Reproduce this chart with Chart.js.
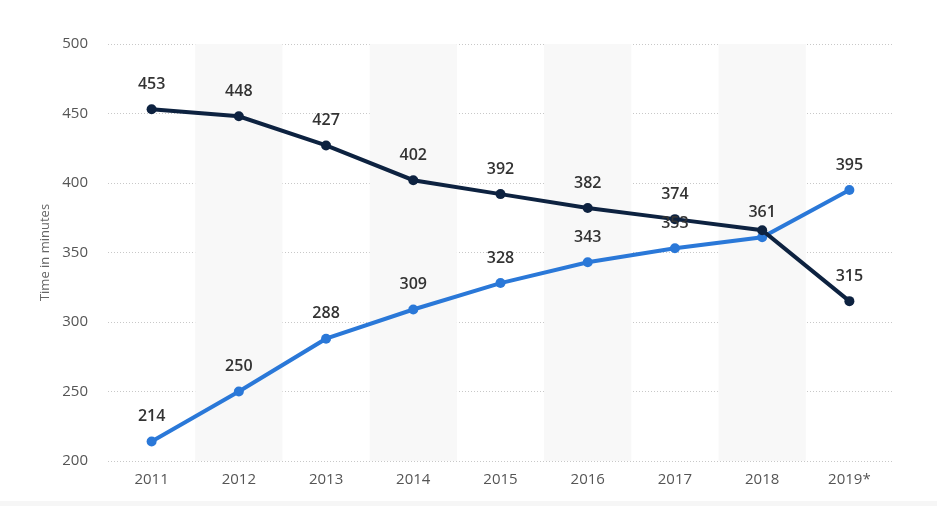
<!DOCTYPE html>
<html>
<head>
<meta charset="utf-8">
<script src="https://cdn.jsdelivr.net/npm/chart.js@4/dist/chart.umd.min.js"></script>
<style>
  html, body { margin: 0; padding: 0; background: #f6f6f6; }
  #wrap { width: 937px; height: 501px; background: #fff; }
</style>
</head>
<body>
<div id="wrap"><canvas id="mycanvas" width="937" height="501"></canvas></div>
<script>
var years = ['2011', '2012', '2013', '2014', '2015', '2016', '2017', '2018', '2019*'];
var darkValues = [453, 448, 427, 402, 392, 382, 374, 366, 315];
var blueValues = [214, 250, 288, 309, 328, 343, 353, 361, 395];
// the 2018 label of the dark line is not shown in the original (overlaps)
var darkHidden = [7];
var yTicks = [200, 250, 300, 350, 400, 450, 500];

// shaded bands behind every second year
var bandsPlugin = {
	id: 'bands',
	beforeDatasetsDraw: function(chart) {
		var ctx = chart.ctx, x = chart.scales.x, area = chart.chartArea;
		var step = x.getPixelForValue(1) - x.getPixelForValue(0);
		ctx.save();
		ctx.fillStyle = '#f8f8f8';
		for (var i = 1; i < years.length; i += 2) {
			var cx = x.getPixelForValue(i);
			ctx.fillRect(cx - step / 2, area.top, step, area.bottom - area.top);
		}
		ctx.restore();
	}
};

var labelsPlugin = {
	id: 'valueLabels',
	afterDatasetsDraw: function(chart) {
		var ctx = chart.ctx;
		ctx.save();
		ctx.font = '600 16px "Open Sans"';
		ctx.fillStyle = '#333';
		ctx.textAlign = 'center';
		ctx.textBaseline = 'middle';
		chart.data.datasets.forEach(function(ds, d) {
			var meta = chart.getDatasetMeta(d);
			meta.data.forEach(function(pt, i) {
				if (d === 0 && darkHidden.indexOf(i) >= 0) return;
				ctx.fillText(String(ds.data[i]), pt.x, pt.y - 25);
			});
		});
		ctx.restore();
	}
};

var chartdata = {
	labels: years,
	datasets: [
		{
			label: 'Dark',
			data: darkValues,
			borderColor: '#0d2240',
			backgroundColor: '#0d2240',
			borderWidth: 4,
			pointRadius: 5,
			pointBorderWidth: 0,
			pointHoverRadius: 5,
			tension: 0
		},
		{
			label: 'Blue',
			data: blueValues,
			borderColor: '#2a78d8',
			backgroundColor: '#2a78d8',
			borderWidth: 4,
			pointRadius: 5,
			pointBorderWidth: 0,
			pointHoverRadius: 5,
			tension: 0
		}
	]
};

var ctx = document.getElementById('mycanvas');

var lineGraph = new Chart(ctx, {
	type: 'line',
	data: chartdata,
	plugins: [bandsPlugin, labelsPlugin],
	options: {
		responsive: false,
		animation: false,
		layout: { padding: { top: 44, right: 44, left: 0, bottom: 0 } },
		plugins: {
			legend: { display: false },
			tooltip: { enabled: false }
		},
		scales: {
			x: {
				offset: true,
				grid: { display: false, drawTicks: false },
				border: { display: false },
				ticks: {
					color: '#555',
					padding: 10,
					font: { family: 'Open Sans', size: 15 }
				},
				afterFit: function(scale) { scale.height = 40; }
			},
			y: {
				min: 200,
				max: 500,
				afterBuildTicks: function(scale) {
					scale.ticks = yTicks.map(function(v) { return { value: v }; });
				},
				grid: { color: '#c8c8c8', lineWidth: 1, drawTicks: false },
				border: { display: false, dash: [1, 2] },
				ticks: {
					color: '#555',
					padding: 20,
					font: { family: 'Open Sans', size: 15 }
				},
				title: {
					display: true,
					text: 'Time in minutes',
					color: '#666',
					padding: { top: 37, bottom: 0 },
					font: { family: 'Open Sans', size: 13 }
				},
				afterFit: function(scale) { scale.width = 108; }
			}
		}
	}
});
</script>
</body>
</html>
